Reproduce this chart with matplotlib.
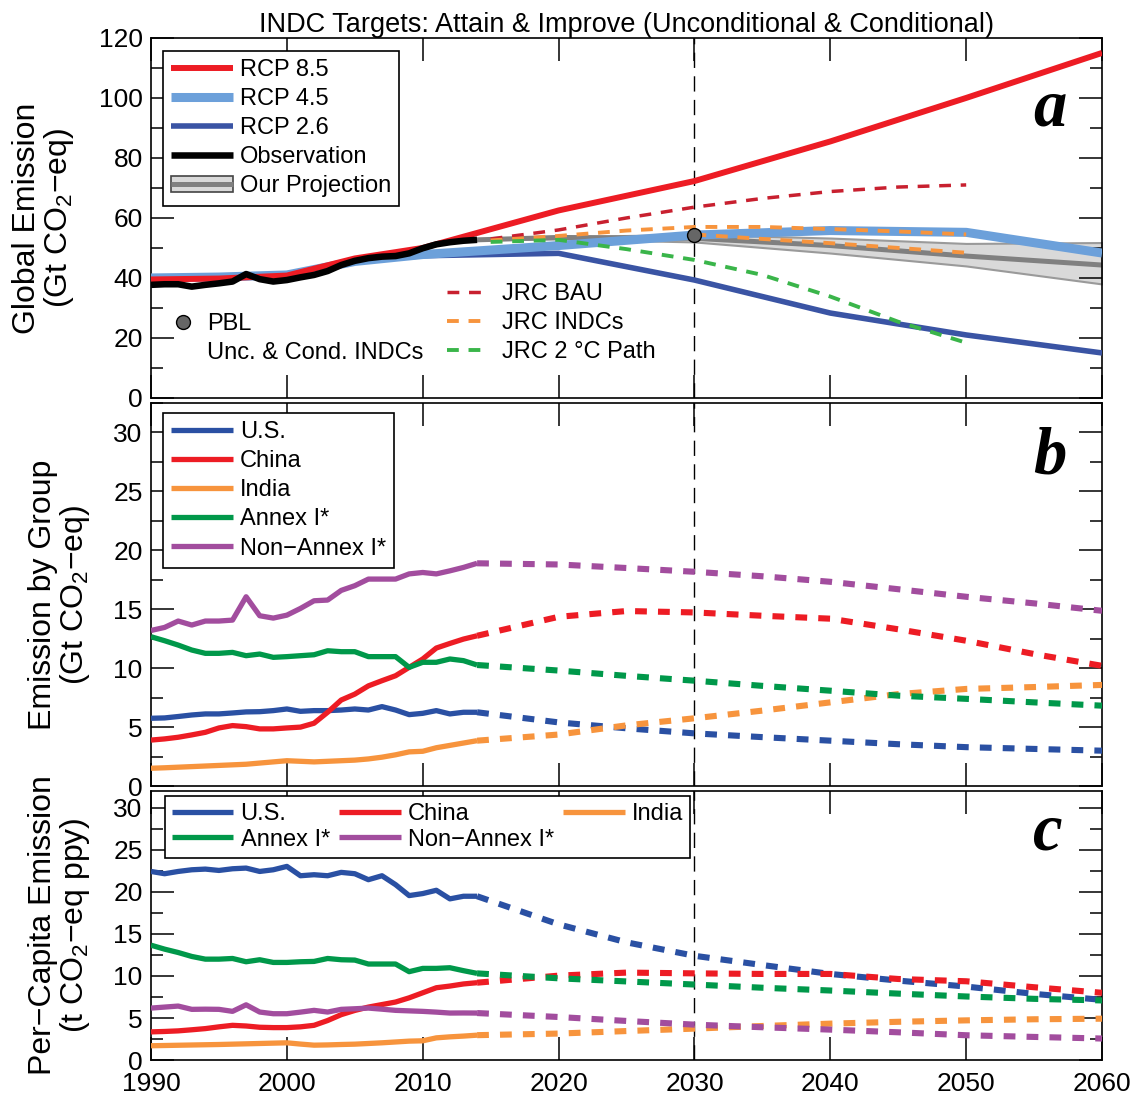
import matplotlib
matplotlib.use("Agg")
import matplotlib.pyplot as plt
from matplotlib.lines import Line2D
from matplotlib.patches import Patch
from matplotlib.ticker import MultipleLocator
import numpy as np

plt.rcParams["font.family"] = ["Liberation Sans", "DejaVu Sans"]
plt.rcParams["lines.scale_dashes"] = False
plt.rcParams["lines.solid_capstyle"] = "butt"

# ── data: panel a (global emission, Gt CO2-eq) ───────────────────────────────
OBS_YEARS = np.arange(1990, 2015)
OBS_GLOBAL = [37.7, 37.9, 37.9, 37.1, 37.7, 38.2, 38.8, 41.3, 39.6, 38.8,
              39.3, 40.2, 41.0, 42.3, 44.3, 45.7, 46.6, 47.1, 47.3, 48.2,
              49.9, 51.2, 51.9, 52.4, 52.7]

RCP_YEARS = [1990, 1995, 2000, 2005, 2010, 2020, 2030, 2040, 2050, 2060]
RCP85 = [39.5, 39.8, 40.8, 46.5, 50.0, 62.5, 72.3, 85.5, 100.0, 115.0]
RCP45 = [40.0, 40.3, 41.0, 45.5, 47.8, 50.8, 54.3, 55.8, 55.2, 48.3]
RCP26 = [40.0, 40.3, 41.0, 45.5, 47.4, 48.2, 39.3, 28.3, 21.0, 15.0]

PROJ_YEARS = [2014, 2020, 2030, 2040, 2050, 2060]
PROJ_MID = [52.7, 53.5, 53.2, 50.8, 47.3, 44.3]
PROJ_HI = [52.7, 53.8, 54.5, 53.3, 51.5, 51.8]
PROJ_LO = [52.7, 53.0, 52.0, 48.3, 44.0, 38.0]

JRC_YEARS = [2015, 2020, 2025, 2030, 2035, 2040, 2045, 2050]
JRC_BAU = [53.0, 56.0, 60.0, 63.6, 66.5, 68.8, 70.3, 71.0]
JRC_INDC = [52.5, 54.0, 55.8, 57.0, 57.0, 56.3, 55.5, 54.5]
JRC_INDC_LOW_YEARS = [2030, 2035, 2040, 2045, 2050]
JRC_INDC_LOW = [54.5, 53.0, 51.6, 50.0, 48.4]
JRC_2C = [52.0, 52.7, 49.6, 46.0, 41.0, 33.8, 25.4, 18.4]

PBL_YEAR = [2030]
PBL_VALUE = [54.3]

# ── data: panels b, c (by group) ─────────────────────────────────────────────
HIST_YEARS = np.arange(1990, 2015)
FUT_YEARS = [2014, 2020, 2025, 2030, 2035, 2040, 2045, 2050, 2055, 2060]
GROUPS = ["U.S.", "China", "India", "Annex I*", "Non\u2212Annex I*"]

GROUP_HIST = {
    "U.S.": [5.75, 5.78, 5.9, 6.03, 6.12, 6.12, 6.2, 6.29, 6.31, 6.4,
             6.54, 6.34, 6.4, 6.4, 6.45, 6.54, 6.45, 6.74, 6.45, 6.06,
             6.17, 6.4, 6.12, 6.26, 6.26],
    "China": [3.9, 4.0, 4.14, 4.34, 4.56, 4.93, 5.13, 5.04, 4.85, 4.85,
              4.93, 5.0, 5.33, 6.26, 7.3, 7.8, 8.5, 8.94, 9.36, 10.07,
              10.78, 11.71, 12.1, 12.47, 12.75],
    "India": [1.51, 1.55, 1.6, 1.65, 1.7, 1.75, 1.8, 1.85, 1.95, 2.05,
              2.15, 2.1, 2.05, 2.1, 2.15, 2.2, 2.3, 2.45, 2.65, 2.9,
              2.95, 3.25, 3.45, 3.65, 3.85],
    "Annex I*": [12.67, 12.33, 11.96, 11.54, 11.26, 11.26, 11.34, 11.06, 11.2, 10.92,
                 10.98, 11.06, 11.14, 11.48, 11.4, 11.4, 10.98, 10.98, 10.98, 10.07,
                 10.5, 10.5, 10.78, 10.64, 10.27],
    "Non\u2212Annex I*": [13.2, 13.46, 14.0, 13.66, 14.0, 14.0, 14.08, 16.06, 14.45, 14.25,
                          14.5, 15.07, 15.72, 15.78, 16.6, 17.0, 17.56, 17.56, 17.56, 18.0,
                          18.12, 18.0, 18.26, 18.55, 18.9],
}
GROUP_FUT = {
    "U.S.": [6.26, 5.4, 4.9, 4.47, 4.15, 3.85, 3.55, 3.3, 3.15, 3.0],
    "China": [12.75, 14.36, 14.85, 14.73, 14.45, 14.2, 13.3, 12.33, 11.2, 10.2],
    "India": [3.85, 4.37, 5.15, 5.75, 6.4, 7.1, 7.8, 8.24, 8.4, 8.58],
    "Annex I*": [10.27, 9.8, 9.35, 8.94, 8.5, 8.09, 7.67, 7.4, 7.1, 6.82],
    "Non\u2212Annex I*": [18.9, 18.8, 18.5, 18.18, 17.8, 17.33, 16.7, 16.06, 15.5, 14.87],
}

PERCAP_HIST = {
    "U.S.": [22.43, 22.16, 22.43, 22.63, 22.71, 22.55, 22.75, 22.83, 22.43, 22.63,
             23.03, 21.92, 22.04, 21.92, 22.32, 22.16, 21.45, 21.92, 20.86, 19.56,
             19.8, 20.19, 19.17, 19.48, 19.48],
    "China": [3.35, 3.4, 3.47, 3.6, 3.74, 3.95, 4.13, 4.05, 3.9, 3.86,
              3.86, 3.95, 4.13, 4.7, 5.4, 5.9, 6.3, 6.6, 6.9, 7.4,
              8.0, 8.6, 8.8, 9.05, 9.2],
    "India": [1.7, 1.73, 1.76, 1.79, 1.82, 1.85, 1.89, 1.93, 1.97, 2.01,
              2.05, 1.9, 1.77, 1.8, 1.85, 1.89, 1.97, 2.05, 2.15, 2.25,
              2.29, 2.64, 2.76, 2.85, 2.96],
    "Annex I*": [13.66, 13.19, 12.79, 12.32, 12.0, 12.0, 12.08, 11.69, 11.93, 11.61,
                 11.61, 11.69, 11.73, 12.08, 11.93, 11.89, 11.42, 11.42, 11.42, 10.51,
                 10.9, 10.9, 10.98, 10.63, 10.31],
    "Non\u2212Annex I*": [6.18, 6.3, 6.42, 6.03, 6.05, 6.03, 5.79, 6.57, 5.71, 5.51,
                          5.51, 5.7, 5.91, 5.71, 6.03, 6.1, 6.18, 6.05, 5.91, 5.85,
                          5.79, 5.7, 5.59, 5.6, 5.59],
}
PERCAP_FUT = {
    "U.S.": [19.48, 16.14, 14.0, 12.4, 11.3, 10.24, 9.45, 8.74, 7.87, 7.16],
    "China": [9.2, 10.04, 10.4, 10.31, 10.24, 10.24, 9.64, 9.37, 8.66, 8.0],
    "India": [2.96, 3.15, 3.45, 3.74, 4.05, 4.33, 4.55, 4.72, 4.85, 4.92],
    "Annex I*": [10.31, 9.72, 9.35, 8.98, 8.6, 8.27, 7.9, 7.56, 7.28, 7.09],
    "Non\u2212Annex I*": [5.59, 5.12, 4.65, 4.21, 3.9, 3.62, 3.3, 2.95, 2.75, 2.56],
}

# ── styles ───────────────────────────────────────────────────────────────────
RED = "#ED1C24"
LBLUE = "#6CA0DA"
DBLUE = "#3A54A4"
GROUP_COLORS = {
    "U.S.": "#2A50A3",
    "China": "#ED1C24",
    "India": "#F7943D",
    "Annex I*": "#00984A",
    "Non\u2212Annex I*": "#A24D9E",
}
JRC_DASH = (0, (8.5, 7))
GRP_DASH = (0, (8.5, 8))
TICK_FS = 19
LEG_FS = 17
LABEL_FS = 23
LEG_SPACING = 0.3


def style_axis(ax, ymax, major, minor, label, label_x):
    ax.set_xlim(1990, 2060)
    ax.set_ylim(0, ymax)
    ax.xaxis.set_major_locator(MultipleLocator(10))
    ax.yaxis.set_major_locator(MultipleLocator(major))
    ax.yaxis.set_minor_locator(MultipleLocator(minor))
    ax.tick_params(which="both", direction="in", top=True, right=True,
                   width=1.1, labelsize=TICK_FS, pad=6)
    ax.tick_params(axis="x", pad=8.5)
    ax.tick_params(which="major", length=16.5)
    ax.tick_params(which="minor", length=8.5)
    for sp in ax.spines.values():
        sp.set_linewidth(1.2)
    ax.set_ylabel(label, fontsize=LABEL_FS, linespacing=1.0)
    ax.yaxis.set_label_coords(label_x, 0.5)
    ax.axvline(2030, color="k", lw=1.0, linestyle=(0, (11, 6)), zorder=0.5)


def plot_groups(ax, hist, fut):
    handles = {}
    for g in GROUPS:
        c = GROUP_COLORS[g]
        (h,) = ax.plot(HIST_YEARS, hist[g], color=c, lw=3.8, label=g, zorder=3)
        ax.plot(FUT_YEARS, fut[g], color=c, lw=4.4, linestyle=GRP_DASH, zorder=3)
        handles[g] = h
    return handles


def boxed_legend(ax, handles, labels, anchor, **kw):
    opts = dict(loc="upper left", bbox_to_anchor=anchor, borderaxespad=0,
                fontsize=LEG_FS, handlelength=2.6, handletextpad=0.3,
                labelspacing=LEG_SPACING, borderpad=0.35, fancybox=False,
                framealpha=1, edgecolor="k")
    opts.update(kw)
    leg = ax.legend(handles, labels, **opts)
    leg.get_frame().set_linewidth(1.2)
    return leg


def panel_letter(ax, x, y, letter):
    ax.text(x, y, letter, transform=ax.transAxes, ha="center", va="baseline",
            fontsize=48, family="Liberation Serif", weight="bold", style="italic")


fig = plt.figure(figsize=(11.38, 10.96), dpi=100)
L, W = 0.1327, 0.8357
ax_a = fig.add_axes([L, 0.6369, W, 0.3285])
ax_b = fig.add_axes([L, 0.2828, W, 0.3495])
ax_c = fig.add_axes([L, 0.0328, W, 0.2455])

# ── panel a ──────────────────────────────────────────────────────────────────
style_axis(ax_a, 120, 20, 10, "Global Emission\n(Gt CO$_\\mathregular{2}$\u2212eq)", -0.079)
ax_a.tick_params(labelbottom=False)

ax_a.fill_between(PROJ_YEARS, PROJ_LO, PROJ_HI, facecolor="#D9D9D9",
                  edgecolor="#9A9A9A", lw=1.5, zorder=1)
h_mid, = ax_a.plot(PROJ_YEARS, PROJ_MID, color="#808080", lw=3.6, zorder=2)
h26, = ax_a.plot(RCP_YEARS, RCP26, color=DBLUE, lw=4.0, zorder=3)
h45, = ax_a.plot(RCP_YEARS, RCP45, color=LBLUE, lw=6.5, zorder=3.1)
h85, = ax_a.plot(RCP_YEARS, RCP85, color=RED, lw=4.3, zorder=3.2)
h_obs, = ax_a.plot(OBS_YEARS, OBS_GLOBAL, color="k", lw=4.7, zorder=4)

h_bau, = ax_a.plot(JRC_YEARS, JRC_BAU, color="#C8202F", lw=2.5, linestyle=JRC_DASH, zorder=5)
h_indc, = ax_a.plot(JRC_YEARS, JRC_INDC, color="#F7943D", lw=2.8, linestyle=JRC_DASH, zorder=5)
ax_a.plot(JRC_INDC_LOW_YEARS, JRC_INDC_LOW, color="#F7943D", lw=2.8, linestyle=JRC_DASH, zorder=5)
h_2c, = ax_a.plot(JRC_YEARS, JRC_2C, color="#3AB54A", lw=2.8, linestyle=JRC_DASH, zorder=5)
h_pbl, = ax_a.plot(PBL_YEAR, PBL_VALUE, "o", color="#666666", mec="k", mew=1.0,
                   ms=10, zorder=6)

band_handle = (Patch(facecolor="#D9D9D9", edgecolor="#444444", lw=1.2),
               Line2D([], [], color="#808080", lw=3.6))
leg_a = boxed_legend(ax_a, [h85, h45, h26, h_obs, band_handle],
                     ["RCP 8.5", "RCP 4.5", "RCP 2.6", "Observation", "Our Projection"],
                     (0.0126, 0.964))
ax_a.add_artist(leg_a)

leg_jrc = ax_a.legend([h_bau, h_indc, h_2c], ["JRC BAU", "JRC INDCs", "JRC 2 \u00b0C Path"],
                      loc="upper left", bbox_to_anchor=(0.311, 0.319), borderaxespad=0,
                      fontsize=LEG_FS, handlelength=1.85, handletextpad=0.5,
                      labelspacing=LEG_SPACING, borderpad=0, frameon=False)
ax_a.add_artist(leg_jrc)

blank = Line2D([], [], linestyle="none")
pbl_marker = Line2D([], [], marker="o", linestyle="none", color="#666666",
                    mec="k", mew=1.0, ms=10)
ax_a.legend([pbl_marker, blank], ["PBL", "Unc. & Cond. INDCs"],
            loc="upper left", bbox_to_anchor=(0.021, 0.236), borderaxespad=0,
            fontsize=LEG_FS, handlelength=1.0, handletextpad=0.52,
            labelspacing=LEG_SPACING, borderpad=0, frameon=False)

panel_letter(ax_a, 0.945, 0.758, "a")
ax_a.set_title("INDC Targets: Attain & Improve (Unconditional & Conditional)",
               fontsize=19.5, pad=4)

# ── panel b ──────────────────────────────────────────────────────────────────
style_axis(ax_b, 32.5, 5, 2.5, "Emission by Group\n(Gt CO$_\\mathregular{2}$\u2212eq)", -0.062)
ax_b.tick_params(labelbottom=False)
hb = plot_groups(ax_b, GROUP_HIST, GROUP_FUT)
boxed_legend(ax_b, [hb[g] for g in GROUPS], GROUPS, (0.0126, 0.974))
panel_letter(ax_b, 0.945, 0.817, "b")

# ── panel c ──────────────────────────────────────────────────────────────────
style_axis(ax_c, 32, 5, 2.5, "Per\u2212Capita Emission\n(t CO$_\\mathregular{2}$\u2212eq ppy)", -0.062)
hc = plot_groups(ax_c, PERCAP_HIST, PERCAP_FUT)
order = ["U.S.", "Annex I*", "China", "Non\u2212Annex I*", "India"]
boxed_legend(ax_c, [hc[g] for g in order], order, (0.0147, 0.981), ncol=3,
             labelspacing=0.15, borderpad=0.3, columnspacing=0.4)
panel_letter(ax_c, 0.942, 0.781, "c")

fig.savefig("out.png", dpi=100)
